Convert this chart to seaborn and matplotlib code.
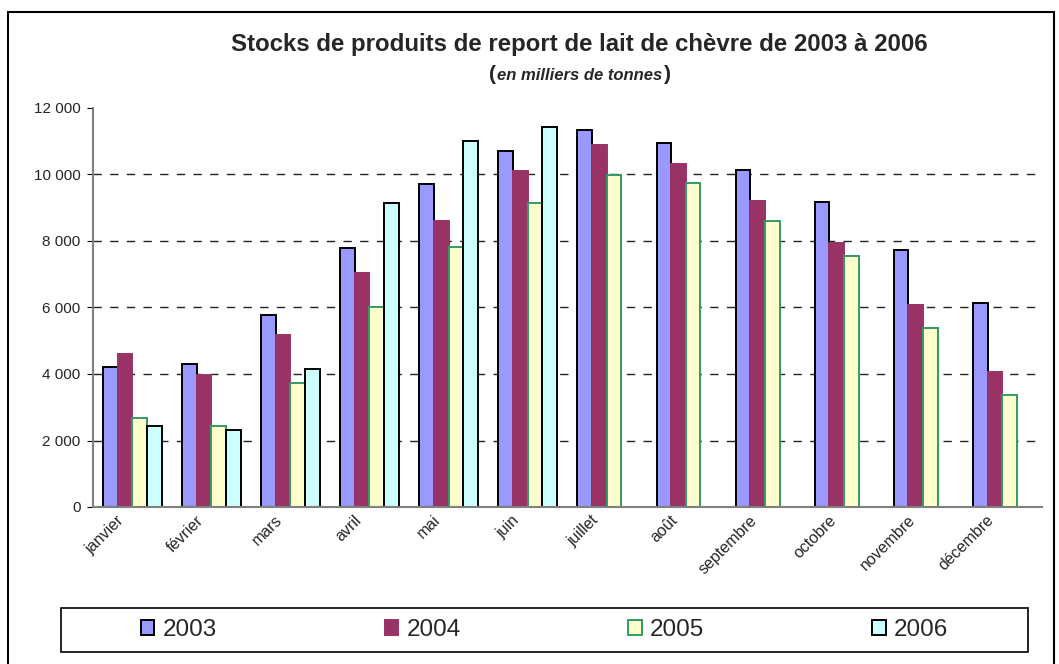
import pandas as pd
import numpy as np
import matplotlib.pyplot as plt
import matplotlib.patches as mpatches
import matplotlib.transforms as mtransforms
import seaborn as sns

mois = ["janvier", "février", "mars", "avril", "mai", "juin", "juillet",
        "août", "septembre", "octobre", "novembre", "décembre"]
annees = ["2003", "2004", "2005", "2006"]

stock_2003 = [4200, 4290, 5770, 7780, 9710, 10720, 11330, 10940, 10130, 9180, 7730, 6150]
stock_2004 = [4600, 3970, 5180, 7030, 8600, 10100, 10900, 10315, 9200, 7930, 6070, 4050]
stock_2005 = [2670, 2430, 3720, 6000, 7830, 9140, 9970, 9740, 8600, 7550, 5380, 3380]
stock_2006 = [2430, 2330, 4150, 9130, 11000, 11440, np.nan, np.nan, np.nan, np.nan, np.nan, np.nan]

couleurs = ["#9999FF", "#993366", "#FFFFCC", "#CCFFFF"]
bords = ["#000000", "#993366", "#339966", "#000000"]

df = pd.DataFrame({"mois": mois * 4,
                   "annee": np.repeat(annees, 12),
                   "stock": stock_2003 + stock_2004 + stock_2005 + stock_2006})

sns.set_style("white")
plt.rcParams['font.family'] = ['Liberation Sans', 'DejaVu Sans']

W, H = 1059, 664
fig = plt.figure(figsize=(W / 100, H / 100), dpi=100)
ax = fig.add_axes([92.7 / W, 1 - 507 / H, 949 / W, 399 / H])

sns.barplot(data=df, x="mois", y="stock", hue="annee", palette=couleurs,
            width=0.74, ax=ax, legend=False, saturation=1)

for cont, bc in zip(ax.containers, bords):
    for bar in cont:
        bar.set_edgecolor(bc)
        bar.set_linewidth(1.4)

ax.set_ylim(0, 12000)
ax.set_xlim(-0.5, 11.5)
ax.set_yticks(range(0, 12001, 2000))
ax.set_yticklabels([f"{v:,}".replace(",", " ") for v in range(0, 12001, 2000)], fontsize=11)
for v in range(2000, 12000, 2000):
    ax.axhline(v, color="#222222", ls=(0, (6, 6)), lw=1, zorder=0)

# etiquettes un peu decalees vers la gauche, comme dans Excel
ax.set_xticks(np.arange(12) - 0.2)
ax.set_xticklabels(mois, rotation=45, ha="right", rotation_mode="anchor", fontsize=11.5)
ax.set_xticks(np.arange(-0.5, 12, 1), minor=True)
ax.tick_params(axis="x", which="major", length=0, pad=4)
ax.tick_params(axis="x", which="minor", length=5, color="black", direction="out")
ax.tick_params(axis="y", length=4.3, color="black", direction="out", left=True, pad=4.5)
ax.set_xlabel("")
ax.set_ylabel("")

for s in ["top", "right"]:
    ax.spines[s].set_visible(False)
for s in ["left", "bottom"]:
    ax.spines[s].set_color("#808080")
    ax.spines[s].set_linewidth(1.5)

fig.text(579.5 / W, 1 - 45 / H, "Stocks de produits de report de lait de chèvre de 2003 à 2006",
         ha="center", va="center", fontsize=17.3, fontweight="bold")
sous = fig.text(580 / W, 1 - 75 / H, "en milliers de tonnes", ha="center", va="center",
                fontsize=12, fontweight="bold", style="italic")
fig.canvas.draw()
bb = sous.get_window_extent()
trans = mtransforms.blended_transform_factory(mtransforms.IdentityTransform(), fig.transFigure)
fig.text(bb.x0 - 1, 1 - 75 / H, "(", ha="right", va="center", fontsize=15, fontweight="bold",
         transform=trans)
fig.text(bb.x1 + 1, 1 - 75 / H, ")", ha="left", va="center", fontsize=15, fontweight="bold",
         transform=trans)

# cadre de la legende
lx0, lx1, ly0, ly1 = 61, 1028, 608, 652
fig.patches.append(mpatches.Rectangle((lx0 / W, 1 - ly1 / H), (lx1 - lx0) / W, (ly1 - ly0) / H,
                                      transform=fig.transFigure, fill=False,
                                      edgecolor="black", linewidth=1.2))
handles = [mpatches.Patch(facecolor=c, edgecolor=b, linewidth=1.4) for c, b in zip(couleurs, bords)]
leg = fig.legend(handles, annees, ncol=4, loc="center",
                 bbox_to_anchor=((lx0 + lx1) / 2 / W, 1 - (ly0 + ly1) / 2 / H),
                 fontsize=17.5, frameon=False,
                 handlelength=0.55, handleheight=0.55, handletextpad=0.35,
                 columnspacing=6.9, borderaxespad=0)

# cadre general
fig.patches.append(mpatches.Rectangle((8 / W, -0.05), 1046 / W, 1 - 12 / H + 0.05,
                                      transform=fig.transFigure, fill=False,
                                      edgecolor="black", linewidth=1.5))

plt.savefig("out.png", dpi=100)
